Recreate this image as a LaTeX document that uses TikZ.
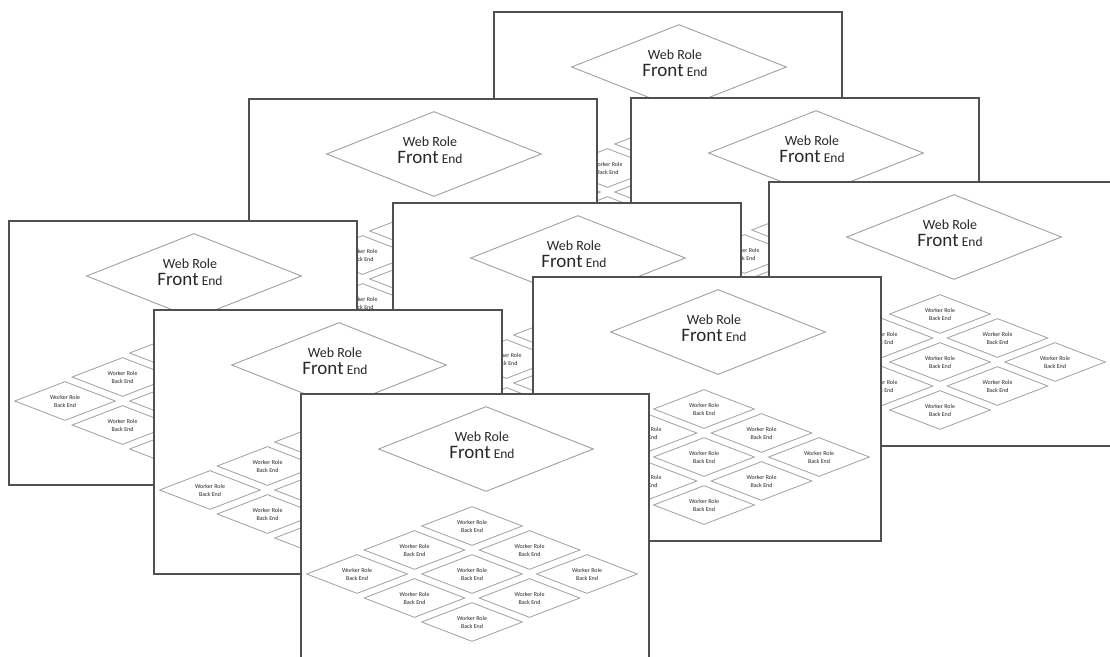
\documentclass[tikz,border=0pt]{standalone}
\usepackage{fontspec}
\setmainfont{Carlito}
\usetikzlibrary{shapes.geometric}
\definecolor{pageline}{RGB}{80,80,80}
\definecolor{diamline}{RGB}{160,160,160}
\definecolor{txt}{RGB}{40,40,40}
\tikzset{
  pagebox/.style={draw=pageline, line width=2.5pt, fill=white, minimum width=348pt, minimum height=264pt, inner sep=0pt, outer sep=0pt},
  webdiam/.style={diamond, draw=diamline, line width=0.9pt, minimum width=215pt, minimum height=85pt, inner sep=0pt, aspect=2.5},
  workdiam/.style={diamond, draw=diamline, line width=0.8pt, minimum width=101pt, minimum height=39pt, inner sep=0pt, aspect=2.6, text=txt, font=\fontsize{6}{8}\selectfont, align=center},
  webtext/.style={text=txt, align=center, inner sep=0pt, font=\fontsize{14}{17}\selectfont},
}
\newcommand\rolepage[3]{%
  \begin{scope}[shift={(#2,#3)}]
    \node[pagebox] (#1) at (174,132) {};
    \node[webdiam] (#1-web) at (185,55) {};
    \node[webtext] (#1-txt) at (181,51) {Web Role\\{\fontsize{19}{17}\selectfont Front} {\fontsize{13.5}{17}\selectfont End}};
    \foreach \ii/\jj [count=\kk] in {-1/-1,-1/0,-1/1,0/-1,0/0,0/1,1/-1,1/0,1/1}
      \node[workdiam] (#1-wk\kk) at ({171+57.5*(\ii+\jj)},{180+24*(\jj-\ii)}) {Worker Role\\Back End};
  \end{scope}}
\begin{document}
\begin{tikzpicture}[x=1pt,y=-1pt]
  \useasboundingbox (0,0) rectangle (1110,656);
  \clip (0,0) rectangle (1110,656);
  \fill[white] (0,0) rectangle (1110,656);
  \rolepage{p1}{494}{12}
  \rolepage{p2}{249}{99}
  \rolepage{p3}{631}{98}
  \rolepage{p4}{9}{221}
  \rolepage{p5}{393}{203}
  \rolepage{p6}{769}{182}
  \rolepage{p7}{154}{310}
  \rolepage{p8}{533}{277}
  \rolepage{p9}{301}{394}
\end{tikzpicture}
\end{document}
